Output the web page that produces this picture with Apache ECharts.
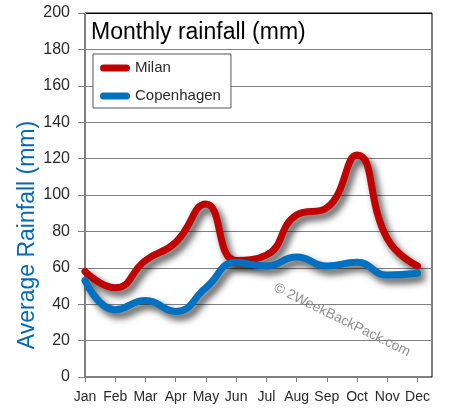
<!DOCTYPE html>
<html><head><meta charset="utf-8">
<script src="https://cdn.jsdelivr.net/npm/echarts@6/dist/echarts.min.js"></script>
<style>html,body{margin:0;padding:0;background:#fff}#c{width:452px;height:418px}</style>
</head><body><div id="c"></div>
<script>
const months = ['Jan','Feb','Mar','Apr','May','Jun','Jul','Aug','Sep','Oct','Nov','Dec'];
const milan = [58, 49, 64, 74, 95, 64, 67, 89, 93, 122, 76, 61];
const copenhagen = [53, 37, 42, 36, 49, 63, 61, 66, 61, 63, 56, 57];
const yTicks = [0, 20, 40, 60, 80, 100, 120, 140, 160, 180, 200];

const FONT = '"Liberation Sans", Arial, sans-serif';
const toPts = arr => arr.map((v, i) => [i, v]);
const shadow = {shadowColor: 'rgba(0,0,0,0.7)', shadowBlur: 7, shadowOffsetX: 4, shadowOffsetY: 5};
const splitColors = yTicks.map((t, i) => i === yTicks.length - 1 ? '#000' : '#808080');
const capsule = 'path://M3.5,0 H26.5 A3.5,3.5 0 0 1 26.5,7 H3.5 A3.5,3.5 0 0 1 3.5,0 Z';

const chart = echarts.init(document.getElementById('c'), null, {renderer: 'canvas'});
chart.setOption({
  animation: false,
  backgroundColor: '#fff',
  title: {
    text: 'Monthly rainfall (mm)', left: 86, top: 16,
    textStyle: {fontFamily: FONT, fontSize: 23, fontWeight: 'normal', color: '#000'}
  },
  legend: {
    orient: 'vertical', left: 93, top: 54,
    padding: [6, 10, 4, 7], itemGap: 12, itemWidth: 30, itemHeight: 7,
    backgroundColor: '#fff', borderColor: '#555', borderWidth: 1,
    textStyle: {fontFamily: FONT, fontSize: 15, color: '#2a2a2a', lineHeight: 16},
    data: [{name: 'Milan', icon: capsule}, {name: 'Copenhagen', icon: capsule}]
  },
  grid: {left: 85, right: 20, top: 13, bottom: 41, show: true, borderColor: '#000', borderWidth: 1, backgroundColor: 'transparent'},
  xAxis: {
    type: 'value', min: 0, max: 11.48, interval: 1,
    axisLine: {show: true, lineStyle: {color: '#808080', width: 1}},
    axisTick: {show: true, length: 5, lineStyle: {color: '#808080'}},
    splitLine: {show: false},
    axisLabel: {
      margin: 13, fontFamily: FONT, fontSize: 14, color: '#2a2a2a',
      showMaxLabel: false,
      formatter: v => (Number.isInteger(v) && months[v]) ? months[v] : ''
    }
  },
  yAxis: {
    type: 'value', min: 0, max: 200, interval: 20,
    axisLine: {show: true, lineStyle: {color: '#808080', width: 1}},
    axisTick: {show: true, length: 7, lineStyle: {color: '#808080'}},
    splitLine: {show: true, lineStyle: {color: splitColors, width: 1}},
    axisLabel: {margin: 15, fontFamily: FONT, fontSize: 16, color: '#2a2a2a',
      formatter: v => yTicks.includes(v) ? String(v) : ''}
  },
  graphic: [
    {type: 'text', x: 28, y: 235, rotation: Math.PI / 2, z: 10,
      style: {text: 'Average Rainfall (mm)', fontFamily: FONT, fontSize: 23, fill: '#0868b4', align: 'center', verticalAlign: 'middle'}},
    {type: 'text', x: 342, y: 320, rotation: -0.455, z: 0,
      style: {text: '\u00a9 2WeekBackPack.com', fontFamily: FONT, fontSize: 14, fill: '#8f8f8f', align: 'center', verticalAlign: 'middle'}}
  ],
  series: [
    {name: 'Milan', type: 'line', data: toPts(milan), smooth: 0.5, symbol: 'none', color: '#C00000',
      lineStyle: Object.assign({width: 7, color: '#C00000', cap: 'round', join: 'round'}, shadow)},
    {name: 'Copenhagen', type: 'line', data: toPts(copenhagen), smooth: 0.5, symbol: 'none', color: '#0070C0',
      lineStyle: Object.assign({width: 7, color: '#0070C0', cap: 'round', join: 'round'}, shadow)}
  ]
});
</script>
</body></html>
